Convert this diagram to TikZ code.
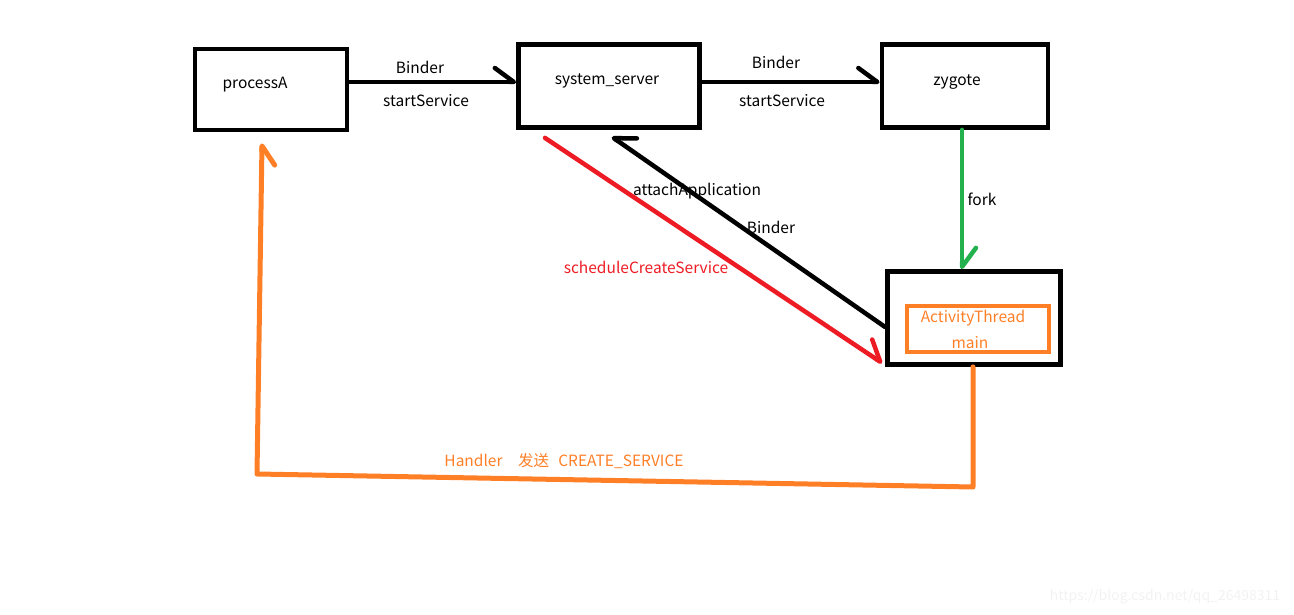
\documentclass[tikz,border=0pt]{standalone}
\usepackage{fontspec}
\setmainfont{Noto Sans CJK SC}
\usepackage{tikz}
\usetikzlibrary{arrows.meta}
\definecolor{paintorange}{HTML}{FF7F27}
\definecolor{paintred}{HTML}{ED1C24}
\definecolor{paintgreen}{HTML}{22B14C}

\begin{document}
\begin{tikzpicture}[x=1pt,y=-1pt,
        box/.style={draw, line width=4.8pt, inner sep=0pt},
        lbl/.style={font=\fontsize{15.5}{18}\selectfont, inner sep=0pt},
        barbL/.style={-{Straight Barb[left,length=19pt,width=28pt,round]}},
        barbR/.style={-{Straight Barb[right,length=19pt,width=26pt,round]}},
        wire/.style={line width=4.5pt, line cap=round, line join=round}]
        \useasboundingbox (0,0) rectangle (1294,615);

        % boxes
        \node[box, minimum width=152pt, minimum height=81pt] (procA) at (271,89.5) {};
        \node[box, minimum width=181pt, minimum height=83pt] (sysSrv) at (609,86) {};
        \node[box, minimum width=166pt, minimum height=83pt] (zyg) at (965,86) {};
        \node[box, minimum width=173pt, minimum height=93pt] (actThr) at (974,318) {};
        \node[box, draw=paintorange, line width=4pt, minimum width=142pt, minimum height=46pt] (actMain) at (978,329) {};

        \node[lbl] (tProcA) at (255,85) {processA};
        \node[lbl] (tSysSrv) at (607,81) {system\_server};
        \node[lbl] (tZyg) at (957,82) {zygote};
        \node[lbl, text=paintorange] (tAct) at (973,318) {ActivityThread};
        \node[lbl, text=paintorange] (tMain) at (970,343) {main};

        % calls
        \draw[wire, barbL] ([yshift=7.5pt]procA.east) -- ([yshift=4pt]sysSrv.west);
        \draw[wire, barbL] ([yshift=4pt]sysSrv.east) -- ([yshift=4pt]zyg.west);
        \draw[wire, barbL, draw=paintgreen] ([xshift=-3pt]zyg.south) -- ([xshift=-12pt]actThr.north);
        \draw[wire, barbR] ([yshift=-9pt]actThr.west) -- ([xshift=3pt,yshift=-7pt]sysSrv.south);
        \draw[wire, barbL, draw=paintred] ([xshift=-64pt,yshift=-8pt]sysSrv.south) -- ([xshift=-3pt,yshift=-45pt]actThr.west);

        \coordinate (hR) at (973,487);
        \coordinate (hL) at (257,474);
        \draw[wire, barbR, draw=paintorange, line width=5pt] ([xshift=-1pt]actThr.south) -- (hR) -- (hL) -- ([xshift=-9pt,yshift=-11pt]procA.south);

        \node[lbl] (lBind1) at (420,67) {Binder};
        \node[lbl] (lStart1) at (426,101) {startService};
        \node[lbl] (lBind2) at (776,62) {Binder};
        \node[lbl] (lStart2) at (782,101) {startService};
        \node[lbl] (lFork) at (982,199) {fork};
        \node[lbl] (lAttach) at (697,191) {attachApplication};
        \node[lbl] (lBind3) at (771,227) {Binder};
        \node[lbl, text=paintred] (lSched) at (646,267) {scheduleCreateService};
        \node[lbl, text=paintorange] (lHandler) at (564,461) {Handler\hspace{1em}发送\hspace{0.6em}CREATE\_SERVICE};

        \node[lbl, text=black!5, font=\fontsize{14}{16}\selectfont] (wmark) at (1165,597) {https://blog.csdn.net/qq\_26498311};
\end{tikzpicture}
\end{document}
